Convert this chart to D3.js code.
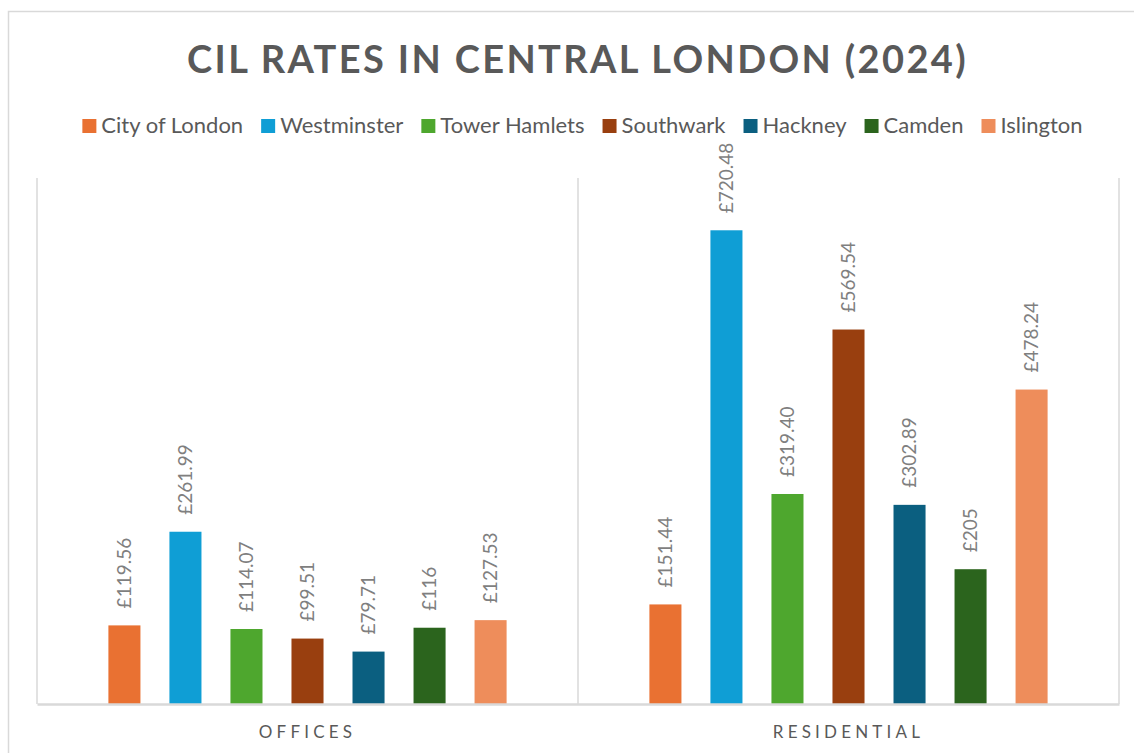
<!DOCTYPE html>
<html>
<head>
<meta charset="utf-8">
<script src="https://cdn.jsdelivr.net/npm/d3@7"></script>
<style>
  body { margin: 0; background: #fff; }
  text { font-family: Lato, "Open Sans", sans-serif; }
</style>
</head>
<body>
<div id="chart"></div>
<script>
// CIL rates per sqm
const categories = ["OFFICES", "RESIDENTIAL"];
const boroughs = ["City of London", "Westminster", "Tower Hamlets", "Southwark", "Hackney", "Camden", "Islington"];
const offices = [119.56, 261.99, 114.07, 99.51, 79.71, 116, 127.53];
const residential = [151.44, 720.48, 319.40, 569.54, 302.89, 205, 478.24];
const colors = ["#e97132", "#0f9ed5", "#4ea72e", "#993f0f", "#0b5f80", "#2b641d", "#ee8d5b"];
const yMax = 800;

const width = 1134, height = 753;
const plot = { left: 37, right: 1119, top: 178, bottom: 704 };

const svg = d3.select("#chart").append("svg")
    .attr("width", width)
    .attr("height", height);

// outer frame (cut off at the right / bottom)
svg.append("rect")
    .attr("x", 8.5).attr("y", 11.5)
    .attr("width", 1200).attr("height", 800)
    .attr("fill", "none")
    .attr("stroke", "#d9d9d9")
    .attr("stroke-width", 1.5);

const rows = categories.map((c, i) => ({
    cat: c,
    values: boroughs.map((b, j) => ({ borough: b, value: i === 0 ? offices[j] : residential[j] }))
}));

const x0 = d3.scaleBand()
    .domain(categories)
    .range([plot.left, plot.right])
    .padding(0);

const x1 = d3.scaleBand()
    .domain(boroughs)
    .range([0, x0.bandwidth()])
    .paddingInner(0.475)
    .paddingOuter(1.17);

const y = d3.scaleLinear()
    .domain([0, yMax])
    .range([plot.bottom, plot.top]);

const color = d3.scaleOrdinal().domain(boroughs).range(colors);

// vertical separators between categories
const seps = categories.map(c => x0(c)).concat([plot.right]);
svg.selectAll(".sep")
    .data(seps)
    .enter()
    .append("line")
    .attr("class", "sep")
    .attr("x1", d => d).attr("x2", d => d)
    .attr("y1", y(yMax)).attr("y2", y(0))
    .attr("stroke", "#d9d9d9")
    .attr("stroke-width", 1.5);

// title
const title = svg.append("text")
    .attr("x", 577.5)
    .attr("y", 73)
    .attr("text-anchor", "middle")
    .style("font-size", "38px")
    .style("font-weight", "bold")
    .attr("fill", "#595959")
    .text("CIL RATES IN CENTRAL LONDON (2024)");
{
    const n = title.text().length;
    const natural = title.node().getComputedTextLength();
    title.style("letter-spacing", ((781 - natural) / n) + "px");
}

// legend
const legend = svg.append("g").attr("class", "legend");
const items = legend.selectAll("g")
    .data(boroughs)
    .enter()
    .append("g");
items.append("rect")
    .attr("width", 14).attr("height", 14)
    .attr("y", 119)
    .attr("fill", d => color(d));
items.append("text")
    .attr("x", 19)
    .attr("y", 133)
    .style("font-size", "22px")
    .attr("fill", "#595959")
    .text(d => d);
{
    let pos = 0;
    const offs = [];
    items.each(function () {
        const w = d3.select(this).select("text").node().getComputedTextLength();
        offs.push(pos);
        pos += 19 + w + 18;
    });
    const total = pos - 18;
    const start = 582.5 - total / 2;
    items.attr("transform", (d, i) => "translate(" + (start + offs[i]) + ",0)");
}

// bars
const groups = svg.selectAll(".group")
    .data(rows)
    .enter()
    .append("g")
    .attr("class", "group")
    .attr("transform", d => "translate(" + x0(d.cat) + ",0)");

groups.selectAll(".bar")
    .data(d => d.values)
    .enter()
    .append("rect")
    .attr("class", "bar")
    .attr("x", d => x1(d.borough))
    .attr("y", d => y(d.value))
    .attr("width", x1.bandwidth())
    .attr("height", d => y(0) - y(d.value))
    .attr("fill", d => color(d.borough));

const fmt = v => "£" + (Number.isInteger(v) ? v : v.toFixed(2));
groups.selectAll(".bar-label")
    .data(d => d.values)
    .enter()
    .append("text")
    .attr("class", "bar-label")
    .attr("transform", d => "translate(" + (x1(d.borough) + x1.bandwidth() / 2) + "," + (y(d.value) - 17) + ") rotate(-90)")
    .attr("dy", "0.35em")
    .style("font-size", "19px")
    .attr("fill", "#7f7f7f")
    .text(d => fmt(d.value));

// category axis
const xAxis = svg.append("g")
    .attr("transform", "translate(0," + plot.bottom + ")")
    .call(d3.axisBottom(x0).tickSize(0).tickPadding(22));
xAxis.select(".domain")
    .attr("stroke", "#d9d9d9")
    .attr("stroke-width", 2.5);
xAxis.selectAll("text")
    .style("font-size", "17px")
    .style("font-family", "Lato, 'Open Sans', sans-serif")
    .style("letter-spacing", "4.2px")
    .attr("fill", "#595959");
</script>
</body>
</html>
